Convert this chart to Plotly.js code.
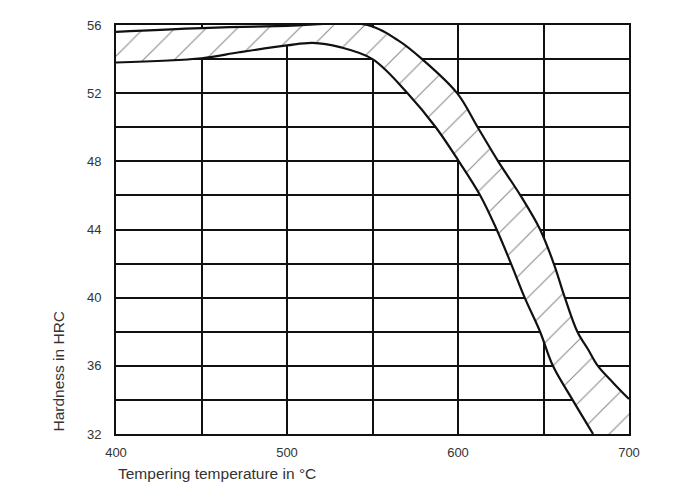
<!DOCTYPE html>
<html>
<head>
<meta charset="utf-8">
<script src="https://cdn.plot.ly/plotly-2.35.2.min.js"></script>
<style>html,body{margin:0;padding:0;background:#fff;}#chart{width:684px;height:498px;}</style>
</head>
<body>
<div id="chart"></div>
<script>
// Upper boundary of the hardness band
var upperTemp = [400, 450, 500, 547, 565, 579, 599.5, 611.5, 623.5, 636.5, 648, 656, 662.5, 669.8, 676.1, 681.9, 690.8, 700];
var upperHRC  = [55.6, 55.82, 55.95, 56, 55.1, 54, 52, 50, 48, 46, 44, 42, 40, 38.0, 36.96, 35.98, 35.0, 34.05];
// Lower boundary of the hardness band
var lowerTemp = [400, 450, 472, 500, 515, 531, 550, 570.5, 587, 600.5, 613, 622.6, 631, 639, 648, 655.5, 667, 679];
var lowerHRC  = [53.8, 54.05, 54.4, 54.8, 54.95, 54.7, 54, 52, 50, 48, 46, 44, 42, 40, 38, 36, 34, 32];
// Corner of the plot that closes the hatched band
var cornerTemp = 700, cornerHRC = 32;

var xTickVals = [400, 450, 500, 550, 600, 650, 700];
var xTickText = ['400', '', '500', '', '600', '', '700'];
var yTickVals = [32, 34, 36, 38, 40, 42, 44, 46, 48, 50, 52, 54, 56];
var yTickText = ['32', '', '36', '', '40', '', '44', '', '48', '', '52', '', '56'];

var bandX = upperTemp.concat([cornerTemp], lowerTemp.slice().reverse());
var bandY = upperHRC.concat([cornerHRC], lowerHRC.slice().reverse());

var traces = [
  {x: bandX, y: bandY, type: 'scatter', mode: 'lines', fill: 'toself',
   line: {width: 0, color: 'rgba(0,0,0,0)'},
   fillcolor: 'rgba(0,0,0,0)',
   fillpattern: {shape: '/', fgcolor: '#8a8a8a', bgcolor: 'white', size: 22, solidity: 0.05},
   hoverinfo: 'skip', showlegend: false},
  {x: upperTemp, y: upperHRC, type: 'scatter', mode: 'lines',
   line: {color: '#111', width: 2.2, shape: 'spline', smoothing: 1}, showlegend: false},
  {x: lowerTemp, y: lowerHRC, type: 'scatter', mode: 'lines',
   line: {color: '#111', width: 2.2, shape: 'spline', smoothing: 1}, showlegend: false}
];

var tickFont = {family: 'Liberation Sans, Arial, sans-serif', size: 13, color: '#333'};
var layout = {
  width: 684, height: 498,
  margin: {l: 116, r: 55, t: 25, b: 64},
  paper_bgcolor: 'white', plot_bgcolor: 'white',
  showlegend: false,
  xaxis: {range: [400, 700], tickvals: xTickVals, ticktext: xTickText,
    showgrid: true, gridcolor: '#111', gridwidth: 2, zeroline: false,
    showline: true, linecolor: '#111', linewidth: 2, mirror: true,
    ticks: '', ticklabelstandoff: 5, tickfont: tickFont, fixedrange: true},
  yaxis: {range: [32, 56], tickvals: yTickVals, ticktext: yTickText,
    showgrid: true, gridcolor: '#111', gridwidth: 2, zeroline: false,
    showline: true, linecolor: '#111', linewidth: 2, mirror: true,
    ticks: '', ticklabelstandoff: 10, tickfont: tickFont, fixedrange: true},
  annotations: [
    {text: 'Tempering temperature in °C', xref: 'paper', yref: 'paper', x: 0, y: -0.072,
     xanchor: 'left', yanchor: 'top', showarrow: false,
     font: {family: 'Liberation Sans, Arial, sans-serif', size: 15.5, color: '#333'}},
    {text: 'Hardness in HRC', xref: 'paper', yref: 'paper', x: -0.113, y: 0,
     xanchor: 'center', yanchor: 'bottom', textangle: -90, showarrow: false,
     font: {family: 'Liberation Sans, Arial, sans-serif', size: 15.5, color: '#333'}}
  ]
};
Plotly.newPlot('chart', traces, layout, {displayModeBar: false, staticPlot: true});
</script>
</body>
</html>
